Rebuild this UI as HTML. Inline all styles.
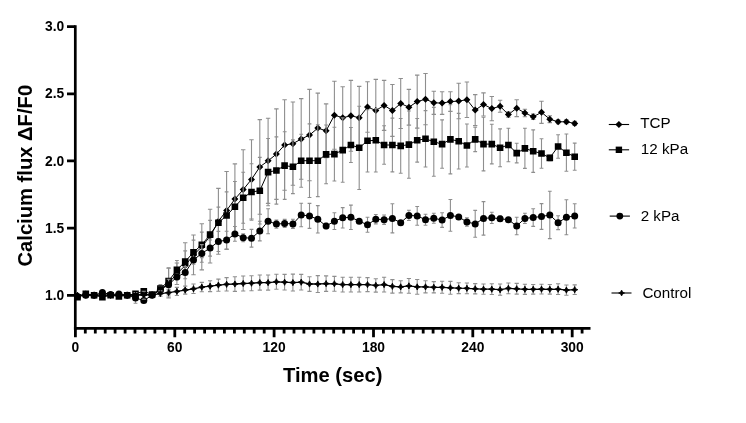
<!DOCTYPE html>
<html><head><meta charset="utf-8"><title>Calcium flux</title>
<style>
html,body{margin:0;padding:0;background:#fff;}
body{width:746px;height:423px;overflow:hidden;}
svg{display:block;}
text{font-family:"Liberation Sans",Arial,Helvetica,sans-serif;fill:#000;}
.tk{font-size:13.8px;font-weight:bold;}
.ax{font-size:20.2px;font-weight:bold;}
.lg{font-size:15.2px;}
</style></head><body>
<svg width="746" height="423" viewBox="0 0 746 423">
<rect width="746" height="423" fill="#fff"/>
<path d="M160.4 285.8V293.9M158.2 285.8h4.4M158.2 293.9h4.4M168.6 268.3V297.9M166.4 268.3h4.4M166.4 297.9h4.4M176.9 263.0V284.5M174.7 263.0h4.4M174.7 284.5h4.4M185.2 242.8V288.5M183.0 242.8h4.4M183.0 288.5h4.4M193.5 235.0V274.8M191.3 235.0h4.4M191.3 274.8h4.4M201.8 223.7V269.9M199.6 223.7h4.4M199.6 269.9h4.4M210.1 209.2V263.0M207.9 209.2h4.4M207.9 263.0h4.4M218.4 188.4V254.2M216.2 188.4h4.4M216.2 254.2h4.4M226.6 171.5V249.4M224.4 171.5h4.4M224.4 249.4h4.4M234.9 163.9V234.3M232.7 163.9h4.4M232.7 234.3h4.4M243.2 149.7V229.5M241.0 149.7h4.4M241.0 229.5h4.4M251.5 139.8V219.0M249.3 139.8h4.4M249.3 219.0h4.4M259.8 119.6V214.2M257.6 119.6h4.4M257.6 214.2h4.4M268.1 118.3V203.4M265.9 118.3h4.4M265.9 203.4h4.4M276.4 108.9V199.4M274.2 108.9h4.4M274.2 199.4h4.4M284.6 99.7V190.3M282.4 99.7h4.4M282.4 190.3h4.4M292.9 102.0V185.3M290.7 102.0h4.4M290.7 185.3h4.4M301.2 98.6V179.3M299.0 98.6h4.4M299.0 179.3h4.4M309.5 89.4V180.7M307.3 89.4h4.4M307.3 180.7h4.4M317.8 93.1V163.0M315.6 93.1h4.4M315.6 163.0h4.4M326.1 103.9V157.6M323.9 103.9h4.4M323.9 157.6h4.4M334.4 81.2V149.2M332.2 81.2h4.4M332.2 149.2h4.4M342.7 86.8V148.6M340.5 86.8h4.4M340.5 148.6h4.4M350.9 80.4V151.3M348.7 80.4h4.4M348.7 151.3h4.4M359.2 86.4V149.0M357.0 86.4h4.4M357.0 149.0h4.4M367.5 81.7V132.2M365.3 81.7h4.4M365.3 132.2h4.4M375.8 79.4V141.5M373.6 79.4h4.4M373.6 141.5h4.4M384.1 80.4V130.4M381.9 80.4h4.4M381.9 130.4h4.4M392.4 84.5V136.4M390.2 84.5h4.4M390.2 136.4h4.4M400.7 78.5V128.5M398.5 78.5h4.4M398.5 128.5h4.4M408.9 89.4V125.1M406.7 89.4h4.4M406.7 125.1h4.4M417.2 75.1V128.1M415.0 75.1h4.4M415.0 128.1h4.4M425.5 73.5V124.8M423.3 73.5h4.4M423.3 124.8h4.4M433.8 91.3V114.4M431.6 91.3h4.4M431.6 114.4h4.4M442.1 91.8V114.4M439.9 91.8h4.4M439.9 114.4h4.4M450.4 91.8V111.4M448.2 91.8h4.4M448.2 111.4h4.4M458.7 83.3V118.8M456.5 83.3h4.4M456.5 118.8h4.4M466.9 82.0V117.5M464.7 82.0h4.4M464.7 117.5h4.4M475.2 94.6V125.5M473.0 94.6h4.4M473.0 125.5h4.4M483.5 92.9V116.0M481.3 92.9h4.4M481.3 116.0h4.4M491.8 96.5V120.7M489.6 96.5h4.4M489.6 120.7h4.4M500.1 100.3V112.3M497.9 100.3h4.4M497.9 112.3h4.4M508.4 111.8V117.2M506.2 111.8h4.4M506.2 117.2h4.4M516.7 99.7V116.6M514.5 99.7h4.4M514.5 116.6h4.4M524.9 109.3V116.8M522.7 109.3h4.4M522.7 116.8h4.4M533.2 114.1V119.5M531.0 114.1h4.4M531.0 119.5h4.4M541.5 101.3V123.4M539.3 101.3h4.4M539.3 123.4h4.4M549.8 115.8V122.6M547.6 115.8h4.4M547.6 122.6h4.4M558.1 119.7V123.8M555.9 119.7h4.4M555.9 123.8h4.4M566.4 119.7V123.8M564.2 119.7h4.4M564.2 123.8h4.4M574.7 121.4V125.4M572.5 121.4h4.4M572.5 125.4h4.4" stroke="#8e8e8e" stroke-width="1.1" fill="none"/>
<polyline points="77.5,296.5 85.8,293.9 94.1,295.2 102.4,295.2 110.6,295.2 118.9,295.2 127.2,295.2 135.5,295.2 143.8,293.9 152.1,295.2 160.4,289.8 168.6,283.1 176.9,273.7 185.2,265.6 193.5,254.9 201.8,246.8 210.1,236.1 218.4,221.3 226.6,210.4 234.9,199.1 243.2,189.6 251.5,179.4 259.8,166.9 268.1,160.8 276.4,154.1 284.6,145.0 292.9,143.7 301.2,139.0 309.5,135.1 317.8,128.1 326.1,130.8 334.4,115.2 342.7,117.7 350.9,115.8 359.2,117.7 367.5,107.0 375.8,110.5 384.1,105.4 392.4,110.5 400.7,103.5 408.9,107.2 417.2,101.6 425.5,99.2 433.8,102.8 442.1,103.1 450.4,101.6 458.7,101.1 466.9,99.7 475.2,110.1 483.5,104.4 491.8,108.6 500.1,106.3 508.4,114.5 516.7,108.2 524.9,113.0 533.2,116.8 541.5,112.3 549.8,119.2 558.1,121.8 566.4,121.8 574.7,123.4" fill="none" stroke="#000" stroke-width="1.0"/>
<path d="M77.5 293.0l3.5 3.5l-3.5 3.5l-3.5 -3.5zM85.8 290.4l3.5 3.5l-3.5 3.5l-3.5 -3.5zM94.1 291.7l3.5 3.5l-3.5 3.5l-3.5 -3.5zM102.4 291.7l3.5 3.5l-3.5 3.5l-3.5 -3.5zM110.6 291.7l3.5 3.5l-3.5 3.5l-3.5 -3.5zM118.9 291.7l3.5 3.5l-3.5 3.5l-3.5 -3.5zM127.2 291.7l3.5 3.5l-3.5 3.5l-3.5 -3.5zM135.5 291.7l3.5 3.5l-3.5 3.5l-3.5 -3.5zM143.8 290.4l3.5 3.5l-3.5 3.5l-3.5 -3.5zM152.1 291.7l3.5 3.5l-3.5 3.5l-3.5 -3.5zM160.4 286.3l3.5 3.5l-3.5 3.5l-3.5 -3.5zM168.6 279.6l3.5 3.5l-3.5 3.5l-3.5 -3.5zM176.9 270.2l3.5 3.5l-3.5 3.5l-3.5 -3.5zM185.2 262.1l3.5 3.5l-3.5 3.5l-3.5 -3.5zM193.5 251.4l3.5 3.5l-3.5 3.5l-3.5 -3.5zM201.8 243.3l3.5 3.5l-3.5 3.5l-3.5 -3.5zM210.1 232.6l3.5 3.5l-3.5 3.5l-3.5 -3.5zM218.4 217.8l3.5 3.5l-3.5 3.5l-3.5 -3.5zM226.6 206.9l3.5 3.5l-3.5 3.5l-3.5 -3.5zM234.9 195.6l3.5 3.5l-3.5 3.5l-3.5 -3.5zM243.2 186.1l3.5 3.5l-3.5 3.5l-3.5 -3.5zM251.5 175.9l3.5 3.5l-3.5 3.5l-3.5 -3.5zM259.8 163.4l3.5 3.5l-3.5 3.5l-3.5 -3.5zM268.1 157.3l3.5 3.5l-3.5 3.5l-3.5 -3.5zM276.4 150.6l3.5 3.5l-3.5 3.5l-3.5 -3.5zM284.6 141.5l3.5 3.5l-3.5 3.5l-3.5 -3.5zM292.9 140.2l3.5 3.5l-3.5 3.5l-3.5 -3.5zM301.2 135.5l3.5 3.5l-3.5 3.5l-3.5 -3.5zM309.5 131.6l3.5 3.5l-3.5 3.5l-3.5 -3.5zM317.8 124.6l3.5 3.5l-3.5 3.5l-3.5 -3.5zM326.1 127.3l3.5 3.5l-3.5 3.5l-3.5 -3.5zM334.4 111.7l3.5 3.5l-3.5 3.5l-3.5 -3.5zM342.7 114.2l3.5 3.5l-3.5 3.5l-3.5 -3.5zM350.9 112.3l3.5 3.5l-3.5 3.5l-3.5 -3.5zM359.2 114.2l3.5 3.5l-3.5 3.5l-3.5 -3.5zM367.5 103.5l3.5 3.5l-3.5 3.5l-3.5 -3.5zM375.8 107.0l3.5 3.5l-3.5 3.5l-3.5 -3.5zM384.1 101.9l3.5 3.5l-3.5 3.5l-3.5 -3.5zM392.4 107.0l3.5 3.5l-3.5 3.5l-3.5 -3.5zM400.7 100.0l3.5 3.5l-3.5 3.5l-3.5 -3.5zM408.9 103.7l3.5 3.5l-3.5 3.5l-3.5 -3.5zM417.2 98.1l3.5 3.5l-3.5 3.5l-3.5 -3.5zM425.5 95.7l3.5 3.5l-3.5 3.5l-3.5 -3.5zM433.8 99.3l3.5 3.5l-3.5 3.5l-3.5 -3.5zM442.1 99.6l3.5 3.5l-3.5 3.5l-3.5 -3.5zM450.4 98.1l3.5 3.5l-3.5 3.5l-3.5 -3.5zM458.7 97.6l3.5 3.5l-3.5 3.5l-3.5 -3.5zM466.9 96.2l3.5 3.5l-3.5 3.5l-3.5 -3.5zM475.2 106.6l3.5 3.5l-3.5 3.5l-3.5 -3.5zM483.5 100.9l3.5 3.5l-3.5 3.5l-3.5 -3.5zM491.8 105.1l3.5 3.5l-3.5 3.5l-3.5 -3.5zM500.1 102.8l3.5 3.5l-3.5 3.5l-3.5 -3.5zM508.4 111.0l3.5 3.5l-3.5 3.5l-3.5 -3.5zM516.7 104.7l3.5 3.5l-3.5 3.5l-3.5 -3.5zM524.9 109.5l3.5 3.5l-3.5 3.5l-3.5 -3.5zM533.2 113.3l3.5 3.5l-3.5 3.5l-3.5 -3.5zM541.5 108.8l3.5 3.5l-3.5 3.5l-3.5 -3.5zM549.8 115.7l3.5 3.5l-3.5 3.5l-3.5 -3.5zM558.1 118.3l3.5 3.5l-3.5 3.5l-3.5 -3.5zM566.4 118.3l3.5 3.5l-3.5 3.5l-3.5 -3.5zM574.7 119.9l3.5 3.5l-3.5 3.5l-3.5 -3.5z" fill="#000"/>
<path d="M160.4 284.5V292.5M158.5 284.5h3.8M158.5 292.5h3.8M168.6 267.7V294.5M166.7 267.7h3.8M166.7 294.5h3.8M176.9 260.5V279.3M175.0 260.5h3.8M175.0 279.3h3.8M185.2 250.9V272.4M183.3 250.9h3.8M183.3 272.4h3.8M193.5 240.1V264.3M191.6 240.1h3.8M191.6 264.3h3.8M201.8 232.1V257.6M199.9 232.1h3.8M199.9 257.6h3.8M210.1 220.4V248.8M208.2 220.4h3.8M208.2 248.8h3.8M218.4 207.1V238.5M216.5 207.1h3.8M216.5 238.5h3.8M226.6 191.9V239.2M224.7 191.9h3.8M224.7 239.2h3.8M234.9 181.5V231.8M233.0 181.5h3.8M233.0 231.8h3.8M243.2 172.3V223.3M241.3 172.3h3.8M241.3 223.3h3.8M251.5 163.8V220.2M249.6 163.8h3.8M249.6 220.2h3.8M259.8 157.4V224.0M257.9 157.4h3.8M257.9 224.0h3.8M268.1 138.5V205.7M266.2 138.5h3.8M266.2 205.7h3.8M276.4 136.9V204.1M274.5 136.9h3.8M274.5 204.1h3.8M284.6 131.7V199.4M282.8 131.7h3.8M282.8 199.4h3.8M292.9 139.9V193.6M291.0 139.9h3.8M291.0 193.6h3.8M301.2 134.2V187.2M299.3 134.2h3.8M299.3 187.2h3.8M309.5 123.9V197.5M307.6 123.9h3.8M307.6 197.5h3.8M317.8 124.8V196.6M315.9 124.8h3.8M315.9 196.6h3.8M326.1 125.0V183.8M324.2 125.0h3.8M324.2 183.8h3.8M334.4 127.3V181.0M332.5 127.3h3.8M332.5 181.0h3.8M342.7 117.9V182.3M340.8 117.9h3.8M340.8 182.3h3.8M350.9 127.5V162.5M349.0 127.5h3.8M349.0 162.5h3.8M359.2 106.2V189.5M357.3 106.2h3.8M357.3 189.5h3.8M367.5 109.7V172.0M365.6 109.7h3.8M365.6 172.0h3.8M375.8 108.6V172.0M373.9 108.6h3.8M373.9 172.0h3.8M384.1 125.7V164.3M382.2 125.7h3.8M382.2 164.3h3.8M392.4 118.1V171.9M390.5 118.1h3.8M390.5 171.9h3.8M400.7 118.5V173.3M398.8 118.5h3.8M398.8 173.3h3.8M408.9 111.0V178.2M407.0 111.0h3.8M407.0 178.2h3.8M417.2 118.5V162.1M415.3 118.5h3.8M415.3 162.1h3.8M425.5 110.6V167.0M423.6 110.6h3.8M423.6 167.0h3.8M433.8 107.4V176.2M431.9 107.4h3.8M431.9 176.2h3.8M442.1 119.9V168.2M440.2 119.9h3.8M440.2 168.2h3.8M450.4 104.8V173.9M448.5 104.8h3.8M448.5 173.9h3.8M458.7 113.4V169.0M456.8 113.4h3.8M456.8 169.0h3.8M466.9 124.0V167.0M465.0 124.0h3.8M465.0 167.0h3.8M475.2 127.1V151.6M473.3 127.1h3.8M473.3 151.6h3.8M483.5 117.2V170.9M481.6 117.2h3.8M481.6 170.9h3.8M491.8 124.2V163.9M489.9 124.2h3.8M489.9 163.9h3.8M500.1 128.9V166.8M498.2 128.9h3.8M498.2 166.8h3.8M508.4 128.3V161.7M506.5 128.3h3.8M506.5 161.7h3.8M516.7 143.3V162.9M514.8 143.3h3.8M514.8 162.9h3.8M524.9 128.3V168.4M523.0 128.3h3.8M523.0 168.4h3.8M533.2 129.9V172.4M531.3 129.9h3.8M531.3 172.4h3.8M541.5 138.7V168.2M539.6 138.7h3.8M539.6 168.2h3.8M549.8 155.2V160.6M547.9 155.2h3.8M547.9 160.6h3.8M558.1 134.8V158.2M556.2 134.8h3.8M556.2 158.2h3.8M566.4 134.0V171.3M564.5 134.0h3.8M564.5 171.3h3.8M574.7 143.1V170.3M572.8 143.1h3.8M572.8 170.3h3.8" stroke="#8e8e8e" stroke-width="1.1" fill="none"/>
<polyline points="77.5,297.2 85.8,293.9 94.1,295.2 102.4,297.2 110.6,295.2 118.9,296.5 127.2,295.2 135.5,293.9 143.8,291.2 152.1,294.5 160.4,288.5 168.6,281.1 176.9,269.9 185.2,261.6 193.5,252.2 201.8,244.8 210.1,234.6 218.4,222.8 226.6,215.5 234.9,206.7 243.2,197.8 251.5,192.0 259.8,190.7 268.1,172.1 276.4,170.5 284.6,165.6 292.9,166.8 301.2,160.7 309.5,160.7 317.8,160.7 326.1,154.4 334.4,154.1 342.7,150.1 350.9,145.0 359.2,147.8 367.5,140.8 375.8,140.3 384.1,145.0 392.4,145.0 400.7,145.9 408.9,144.6 417.2,140.3 425.5,138.8 433.8,141.8 442.1,144.1 450.4,139.4 458.7,141.2 466.9,145.5 475.2,139.4 483.5,144.1 491.8,144.1 500.1,147.8 508.4,145.0 516.7,153.1 524.9,148.4 533.2,151.2 541.5,153.5 549.8,157.9 558.1,146.5 566.4,152.7 574.7,156.7" fill="none" stroke="#000" stroke-width="1.0"/>
<path d="M74.2 293.9h6.6v6.6h-6.6zM82.5 290.6h6.6v6.6h-6.6zM90.8 291.9h6.6v6.6h-6.6zM99.1 293.9h6.6v6.6h-6.6zM107.3 291.9h6.6v6.6h-6.6zM115.6 293.2h6.6v6.6h-6.6zM123.9 291.9h6.6v6.6h-6.6zM132.2 290.6h6.6v6.6h-6.6zM140.5 287.9h6.6v6.6h-6.6zM148.8 291.2h6.6v6.6h-6.6zM157.1 285.2h6.6v6.6h-6.6zM165.3 277.8h6.6v6.6h-6.6zM173.6 266.6h6.6v6.6h-6.6zM181.9 258.3h6.6v6.6h-6.6zM190.2 248.9h6.6v6.6h-6.6zM198.5 241.5h6.6v6.6h-6.6zM206.8 231.3h6.6v6.6h-6.6zM215.1 219.5h6.6v6.6h-6.6zM223.3 212.2h6.6v6.6h-6.6zM231.6 203.4h6.6v6.6h-6.6zM239.9 194.5h6.6v6.6h-6.6zM248.2 188.7h6.6v6.6h-6.6zM256.5 187.4h6.6v6.6h-6.6zM264.8 168.8h6.6v6.6h-6.6zM273.1 167.2h6.6v6.6h-6.6zM281.3 162.3h6.6v6.6h-6.6zM289.6 163.5h6.6v6.6h-6.6zM297.9 157.4h6.6v6.6h-6.6zM306.2 157.4h6.6v6.6h-6.6zM314.5 157.4h6.6v6.6h-6.6zM322.8 151.1h6.6v6.6h-6.6zM331.1 150.8h6.6v6.6h-6.6zM339.4 146.8h6.6v6.6h-6.6zM347.6 141.7h6.6v6.6h-6.6zM355.9 144.5h6.6v6.6h-6.6zM364.2 137.5h6.6v6.6h-6.6zM372.5 137.0h6.6v6.6h-6.6zM380.8 141.7h6.6v6.6h-6.6zM389.1 141.7h6.6v6.6h-6.6zM397.4 142.6h6.6v6.6h-6.6zM405.6 141.3h6.6v6.6h-6.6zM413.9 137.0h6.6v6.6h-6.6zM422.2 135.5h6.6v6.6h-6.6zM430.5 138.5h6.6v6.6h-6.6zM438.8 140.8h6.6v6.6h-6.6zM447.1 136.1h6.6v6.6h-6.6zM455.4 137.9h6.6v6.6h-6.6zM463.6 142.2h6.6v6.6h-6.6zM471.9 136.1h6.6v6.6h-6.6zM480.2 140.8h6.6v6.6h-6.6zM488.5 140.8h6.6v6.6h-6.6zM496.8 144.5h6.6v6.6h-6.6zM505.1 141.7h6.6v6.6h-6.6zM513.4 149.8h6.6v6.6h-6.6zM521.6 145.1h6.6v6.6h-6.6zM529.9 147.9h6.6v6.6h-6.6zM538.2 150.2h6.6v6.6h-6.6zM546.5 154.6h6.6v6.6h-6.6zM554.8 143.2h6.6v6.6h-6.6zM563.1 149.4h6.6v6.6h-6.6zM571.4 153.4h6.6v6.6h-6.6z" fill="#000"/>
<path d="M135.5 292.5V303.3M133.6 292.5h3.8M133.6 303.3h3.8M160.4 287.1V292.5M158.5 287.1h3.8M158.5 292.5h3.8M168.6 279.3V290.1M166.7 279.3h3.8M166.7 290.1h3.8M176.9 274.2V279.6M175.0 274.2h3.8M175.0 279.6h3.8M185.2 266.6V278.7M183.3 266.6h3.8M183.3 278.7h3.8M193.5 257.2V262.6M191.6 257.2h3.8M191.6 262.6h3.8M201.8 244.6V262.3M199.9 244.6h3.8M199.9 262.3h3.8M210.1 240.0V256.1M208.2 240.0h3.8M208.2 256.1h3.8M218.4 231.4V251.5M216.5 231.4h3.8M216.5 251.5h3.8M226.6 231.2V249.0M224.7 231.2h3.8M224.7 249.0h3.8M234.9 226.5V241.3M233.0 226.5h3.8M233.0 241.3h3.8M243.2 233.7V241.7M241.3 233.7h3.8M241.3 241.7h3.8M251.5 229.4V247.1M249.6 229.4h3.8M249.6 247.1h3.8M259.8 221.3V240.9M257.9 221.3h3.8M257.9 240.9h3.8M268.1 208.7V233.7M266.2 208.7h3.8M266.2 233.7h3.8M276.4 220.1V228.2M274.5 220.1h3.8M274.5 228.2h3.8M284.6 219.4V227.5M282.8 219.4h3.8M282.8 227.5h3.8M292.9 219.3V228.4M291.0 219.3h3.8M291.0 228.4h3.8M301.2 203.3V226.7M299.3 203.3h3.8M299.3 226.7h3.8M309.5 203.4V228.4M307.6 203.4h3.8M307.6 228.4h3.8M317.8 205.6V233.0M315.9 205.6h3.8M315.9 233.0h3.8M326.1 223.3V228.7M324.2 223.3h3.8M324.2 228.7h3.8M334.4 212.8V229.5M332.5 212.8h3.8M332.5 229.5h3.8M342.7 207.6V228.0M340.8 207.6h3.8M340.8 228.0h3.8M350.9 205.1V229.5M349.0 205.1h3.8M349.0 229.5h3.8M359.2 219.2V223.2M357.3 219.2h3.8M357.3 223.2h3.8M367.5 217.3V232.3M365.6 217.3h3.8M365.6 232.3h3.8M375.8 214.5V223.9M373.9 214.5h3.8M373.9 223.9h3.8M384.1 215.0V224.4M382.2 215.0h3.8M382.2 224.4h3.8M392.4 203.8V232.9M390.5 203.8h3.8M390.5 232.9h3.8M400.7 221.3V224.0M398.8 221.3h3.8M398.8 224.0h3.8M408.9 210.3V220.5M407.0 210.3h3.8M407.0 220.5h3.8M417.2 206.5V225.3M415.3 206.5h3.8M415.3 225.3h3.8M425.5 214.2V225.2M423.6 214.2h3.8M423.6 225.2h3.8M433.8 213.2V223.2M431.9 213.2h3.8M431.9 223.2h3.8M442.1 212.8V227.4M440.2 212.8h3.8M440.2 227.4h3.8M450.4 199.5V231.2M448.5 199.5h3.8M448.5 231.2h3.8M458.7 215.5V218.2M456.8 215.5h3.8M456.8 218.2h3.8M466.9 217.7V226.3M465.0 217.7h3.8M465.0 226.3h3.8M475.2 210.4V237.3M473.3 210.4h3.8M473.3 237.3h3.8M483.5 201.6V235.1M481.6 201.6h3.8M481.6 235.1h3.8M491.8 212.2V223.5M489.9 212.2h3.8M489.9 223.5h3.8M500.1 216.1V221.4M498.2 216.1h3.8M498.2 221.4h3.8M508.4 218.4V221.0M506.5 218.4h3.8M506.5 221.0h3.8M516.7 217.3V234.7M514.8 217.3h3.8M514.8 234.7h3.8M524.9 213.2V223.5M523.0 213.2h3.8M523.0 223.5h3.8M533.2 208.7V226.4M531.3 208.7h3.8M531.3 226.4h3.8M541.5 203.6V229.4M539.6 203.6h3.8M539.6 229.4h3.8M549.8 191.3V238.6M547.9 191.3h3.8M547.9 238.6h3.8M558.1 215.7V229.6M556.2 215.7h3.8M556.2 229.6h3.8M566.4 199.8V234.7M564.5 199.8h3.8M564.5 234.7h3.8M574.7 203.8V228.0M572.8 203.8h3.8M572.8 228.0h3.8" stroke="#8e8e8e" stroke-width="1.1" fill="none"/>
<polyline points="77.5,296.5 85.8,295.2 94.1,295.2 102.4,292.5 110.6,294.5 118.9,293.9 127.2,295.2 135.5,297.9 143.8,300.6 152.1,295.2 160.4,289.8 168.6,284.7 176.9,276.9 185.2,272.6 193.5,259.9 201.8,253.4 210.1,248.0 218.4,241.5 226.6,240.1 234.9,233.9 243.2,237.7 251.5,238.2 259.8,231.1 268.1,221.2 276.4,224.1 284.6,223.5 292.9,223.9 301.2,215.0 309.5,215.9 317.8,219.3 326.1,226.0 334.4,221.2 342.7,217.8 350.9,217.3 359.2,221.2 367.5,224.8 375.8,219.2 384.1,219.7 392.4,218.4 400.7,222.7 408.9,215.4 417.2,215.9 425.5,219.7 433.8,218.2 442.1,220.1 450.4,215.4 458.7,216.9 466.9,222.0 475.2,223.9 483.5,218.4 491.8,217.8 500.1,218.8 508.4,219.7 516.7,226.0 524.9,218.4 533.2,217.5 541.5,216.5 549.8,215.0 558.1,222.7 566.4,217.3 574.7,215.9" fill="none" stroke="#000" stroke-width="1.0"/>
<g fill="#000"><circle cx="77.5" cy="296.5" r="3.5"/><circle cx="85.8" cy="295.2" r="3.5"/><circle cx="94.1" cy="295.2" r="3.5"/><circle cx="102.4" cy="292.5" r="3.5"/><circle cx="110.6" cy="294.5" r="3.5"/><circle cx="118.9" cy="293.9" r="3.5"/><circle cx="127.2" cy="295.2" r="3.5"/><circle cx="135.5" cy="297.9" r="3.5"/><circle cx="143.8" cy="300.6" r="3.5"/><circle cx="152.1" cy="295.2" r="3.5"/><circle cx="160.4" cy="289.8" r="3.5"/><circle cx="168.6" cy="284.7" r="3.5"/><circle cx="176.9" cy="276.9" r="3.5"/><circle cx="185.2" cy="272.6" r="3.5"/><circle cx="193.5" cy="259.9" r="3.5"/><circle cx="201.8" cy="253.4" r="3.5"/><circle cx="210.1" cy="248.0" r="3.5"/><circle cx="218.4" cy="241.5" r="3.5"/><circle cx="226.6" cy="240.1" r="3.5"/><circle cx="234.9" cy="233.9" r="3.5"/><circle cx="243.2" cy="237.7" r="3.5"/><circle cx="251.5" cy="238.2" r="3.5"/><circle cx="259.8" cy="231.1" r="3.5"/><circle cx="268.1" cy="221.2" r="3.5"/><circle cx="276.4" cy="224.1" r="3.5"/><circle cx="284.6" cy="223.5" r="3.5"/><circle cx="292.9" cy="223.9" r="3.5"/><circle cx="301.2" cy="215.0" r="3.5"/><circle cx="309.5" cy="215.9" r="3.5"/><circle cx="317.8" cy="219.3" r="3.5"/><circle cx="326.1" cy="226.0" r="3.5"/><circle cx="334.4" cy="221.2" r="3.5"/><circle cx="342.7" cy="217.8" r="3.5"/><circle cx="350.9" cy="217.3" r="3.5"/><circle cx="359.2" cy="221.2" r="3.5"/><circle cx="367.5" cy="224.8" r="3.5"/><circle cx="375.8" cy="219.2" r="3.5"/><circle cx="384.1" cy="219.7" r="3.5"/><circle cx="392.4" cy="218.4" r="3.5"/><circle cx="400.7" cy="222.7" r="3.5"/><circle cx="408.9" cy="215.4" r="3.5"/><circle cx="417.2" cy="215.9" r="3.5"/><circle cx="425.5" cy="219.7" r="3.5"/><circle cx="433.8" cy="218.2" r="3.5"/><circle cx="442.1" cy="220.1" r="3.5"/><circle cx="450.4" cy="215.4" r="3.5"/><circle cx="458.7" cy="216.9" r="3.5"/><circle cx="466.9" cy="222.0" r="3.5"/><circle cx="475.2" cy="223.9" r="3.5"/><circle cx="483.5" cy="218.4" r="3.5"/><circle cx="491.8" cy="217.8" r="3.5"/><circle cx="500.1" cy="218.8" r="3.5"/><circle cx="508.4" cy="219.7" r="3.5"/><circle cx="516.7" cy="226.0" r="3.5"/><circle cx="524.9" cy="218.4" r="3.5"/><circle cx="533.2" cy="217.5" r="3.5"/><circle cx="541.5" cy="216.5" r="3.5"/><circle cx="549.8" cy="215.0" r="3.5"/><circle cx="558.1" cy="222.7" r="3.5"/><circle cx="566.4" cy="217.3" r="3.5"/><circle cx="574.7" cy="215.9" r="3.5"/></g>
<path d="M143.8 291.2V299.2M141.7 291.2h4.2M141.7 299.2h4.2M160.4 290.9V296.3M158.3 290.9h4.2M158.3 296.3h4.2M168.6 289.3V296.0M166.5 289.3h4.2M166.5 296.0h4.2M176.9 287.4V295.5M174.8 287.4h4.2M174.8 295.5h4.2M185.2 286.1V294.1M183.1 286.1h4.2M183.1 294.1h4.2M193.5 284.0V293.5M191.4 284.0h4.2M191.4 293.5h4.2M201.8 282.4V291.8M199.7 282.4h4.2M199.7 291.8h4.2M210.1 280.8V291.6M208.0 280.8h4.2M208.0 291.6h4.2M218.4 279.1V291.2M216.3 279.1h4.2M216.3 291.2h4.2M226.6 277.6V291.0M224.5 277.6h4.2M224.5 291.0h4.2M234.9 276.7V291.4M232.8 276.7h4.2M232.8 291.4h4.2M243.2 276.0V291.0M241.1 276.0h4.2M241.1 291.0h4.2M251.5 275.7V290.8M249.4 275.7h4.2M249.4 290.8h4.2M259.8 275.0V290.1M257.7 275.0h4.2M257.7 290.1h4.2M268.1 275.0V290.1M266.0 275.0h4.2M266.0 290.1h4.2M276.4 274.2V289.3M274.3 274.2h4.2M274.3 289.3h4.2M284.6 274.4V290.0M282.5 274.4h4.2M282.5 290.0h4.2M292.9 274.1V291.0M290.8 274.1h4.2M290.8 291.0h4.2M301.2 274.4V290.0M299.1 274.4h4.2M299.1 290.0h4.2M309.5 276.7V291.4M307.4 276.7h4.2M307.4 291.4h4.2M317.8 275.6V292.5M315.7 275.6h4.2M315.7 292.5h4.2M326.1 275.9V291.4M324.0 275.9h4.2M324.0 291.4h4.2M334.4 276.4V291.2M332.3 276.4h4.2M332.3 291.2h4.2M342.7 277.2V292.0M340.6 277.2h4.2M340.6 292.0h4.2M350.9 277.2V292.0M348.8 277.2h4.2M348.8 292.0h4.2M359.2 277.2V292.0M357.1 277.2h4.2M357.1 292.0h4.2M367.5 277.6V291.6M365.4 277.6h4.2M365.4 291.6h4.2M375.8 278.7V292.1M373.7 278.7h4.2M373.7 292.1h4.2M384.1 277.2V292.0M382.0 277.2h4.2M382.0 292.0h4.2M392.4 279.6V293.1M390.3 279.6h4.2M390.3 293.1h4.2M400.7 280.8V292.9M398.6 280.8h4.2M398.6 292.9h4.2M408.9 278.5V293.3M406.8 278.5h4.2M406.8 293.3h4.2M417.2 279.5V294.3M415.1 279.5h4.2M415.1 294.3h4.2M425.5 280.8V292.9M423.4 280.8h4.2M423.4 292.9h4.2M433.8 281.6V292.9M431.7 281.6h4.2M431.7 292.9h4.2M442.1 281.2V293.3M440.0 281.2h4.2M440.0 293.3h4.2M450.4 281.4V294.3M448.3 281.4h4.2M448.3 294.3h4.2M458.7 282.8V293.6M456.6 282.8h4.2M456.6 293.6h4.2M466.9 283.0V293.7M464.8 283.0h4.2M464.8 293.7h4.2M475.2 283.6V293.9M473.1 283.6h4.2M473.1 293.9h4.2M483.5 284.0V294.3M481.4 284.0h4.2M481.4 294.3h4.2M491.8 283.8V294.5M489.7 283.8h4.2M489.7 294.5h4.2M500.1 284.0V295.3M498.0 284.0h4.2M498.0 295.3h4.2M508.4 283.0V293.7M506.3 283.0h4.2M506.3 293.7h4.2M516.7 283.4V294.1M514.6 283.4h4.2M514.6 294.1h4.2M524.9 284.2V294.4M522.8 284.2h4.2M522.8 294.4h4.2M533.2 284.5V294.1M531.1 284.5h4.2M531.1 294.1h4.2M541.5 284.3V294.0M539.4 284.3h4.2M539.4 294.0h4.2M549.8 284.5V294.1M547.7 284.5h4.2M547.7 294.1h4.2M558.1 283.8V294.5M556.0 283.8h4.2M556.0 294.5h4.2M566.4 285.0V295.2M564.3 285.0h4.2M564.3 295.2h4.2M574.7 284.9V294.5M572.6 284.9h4.2M572.6 294.5h4.2" stroke="#8e8e8e" stroke-width="1.1" fill="none"/>
<polyline points="77.5,295.2 85.8,295.2 94.1,295.2 102.4,295.2 110.6,295.2 118.9,295.2 127.2,295.2 135.5,295.2 143.8,295.2 152.1,294.8 160.4,293.6 168.6,292.6 176.9,291.4 185.2,290.1 193.5,288.8 201.8,287.1 210.1,286.2 218.4,285.1 226.6,284.3 234.9,284.0 243.2,283.5 251.5,283.2 259.8,282.6 268.1,282.6 276.4,281.8 284.6,282.2 292.9,282.6 301.2,282.2 309.5,284.0 317.8,284.0 326.1,283.6 334.4,283.8 342.7,284.6 350.9,284.6 359.2,284.6 367.5,284.6 375.8,285.4 384.1,284.6 392.4,286.3 400.7,286.9 408.9,285.9 417.2,286.9 425.5,286.9 433.8,287.3 442.1,287.3 450.4,287.8 458.7,288.2 466.9,288.3 475.2,288.8 483.5,289.2 491.8,289.2 500.1,289.7 508.4,288.3 516.7,288.8 524.9,289.3 533.2,289.3 541.5,289.2 549.8,289.3 558.1,289.2 566.4,290.1 574.7,289.7" fill="none" stroke="#000" stroke-width="1.3"/>
<path d="M77.5 292.1L78.50 294.20L80.6 295.2L78.50 296.20L77.5 298.3L76.50 296.20L74.4 295.2L76.50 294.20zM85.8 292.1L86.79 294.20L88.9 295.2L86.79 296.20L85.8 298.3L84.79 296.20L82.7 295.2L84.79 294.20zM94.1 292.1L95.07 294.20L97.2 295.2L95.07 296.20L94.1 298.3L93.07 296.20L91.0 295.2L93.07 294.20zM102.4 292.1L103.36 294.20L105.5 295.2L103.36 296.20L102.4 298.3L101.36 296.20L99.3 295.2L101.36 294.20zM110.6 292.1L111.64 294.20L113.7 295.2L111.64 296.20L110.6 298.3L109.64 296.20L107.5 295.2L109.64 294.20zM118.9 292.1L119.93 294.20L122.0 295.2L119.93 296.20L118.9 298.3L117.93 296.20L115.8 295.2L117.93 294.20zM127.2 292.1L128.22 294.20L130.3 295.2L128.22 296.20L127.2 298.3L126.22 296.20L124.1 295.2L126.22 294.20zM135.5 292.1L136.50 294.20L138.6 295.2L136.50 296.20L135.5 298.3L134.50 296.20L132.4 295.2L134.50 294.20zM143.8 292.1L144.79 294.20L146.9 295.2L144.79 296.20L143.8 298.3L142.79 296.20L140.7 295.2L142.79 294.20zM152.1 291.7L153.07 293.80L155.2 294.8L153.07 295.80L152.1 297.9L151.07 295.80L149.0 294.8L151.07 293.80zM160.4 290.5L161.36 292.59L163.5 293.6L161.36 294.59L160.4 296.7L159.36 294.59L157.3 293.6L159.36 292.59zM168.6 289.5L169.65 291.65L171.7 292.6L169.65 293.65L168.6 295.7L167.65 293.65L165.5 292.6L167.65 291.65zM176.9 288.3L177.93 290.44L180.0 291.4L177.93 292.44L176.9 294.5L175.93 292.44L173.8 291.4L175.93 290.44zM185.2 287.0L186.22 289.09L188.3 290.1L186.22 291.09L185.2 293.2L184.22 291.09L182.1 290.1L184.22 289.09zM193.5 285.7L194.50 287.75L196.6 288.8L194.50 289.75L193.5 291.9L192.50 289.75L190.4 288.8L192.50 287.75zM201.8 284.0L202.79 286.14L204.9 287.1L202.79 288.14L201.8 290.2L200.79 288.14L198.7 287.1L200.79 286.14zM210.1 283.1L211.08 285.20L213.2 286.2L211.08 287.20L210.1 289.3L209.08 287.20L207.0 286.2L209.08 285.20zM218.4 282.0L219.36 284.12L221.5 285.1L219.36 286.12L218.4 288.2L217.36 286.12L215.3 285.1L217.36 284.12zM226.6 281.2L227.65 283.32L229.7 284.3L227.65 285.32L226.6 287.4L225.65 285.32L223.5 284.3L225.65 283.32zM234.9 280.9L235.93 283.05L238.0 284.0L235.93 285.05L234.9 287.1L233.93 285.05L231.8 284.0L233.93 283.05zM243.2 280.4L244.22 282.51L246.3 283.5L244.22 284.51L243.2 286.6L242.22 284.51L240.1 283.5L242.22 282.51zM251.5 280.1L252.51 282.24L254.6 283.2L252.51 284.24L251.5 286.3L250.51 284.24L248.4 283.2L250.51 282.24zM259.8 279.5L260.79 281.57L262.9 282.6L260.79 283.57L259.8 285.7L258.79 283.57L256.7 282.6L258.79 281.57zM268.1 279.5L269.08 281.57L271.2 282.6L269.08 283.57L268.1 285.7L267.08 283.57L265.0 282.6L267.08 281.57zM276.4 278.7L277.36 280.76L279.5 281.8L277.36 282.76L276.4 284.9L275.36 282.76L273.3 281.8L275.36 280.76zM284.6 279.1L285.65 281.17L287.8 282.2L285.65 283.17L284.6 285.3L283.65 283.17L281.5 282.2L283.65 281.17zM292.9 279.5L293.94 281.57L296.0 282.6L293.94 283.57L292.9 285.7L291.94 283.57L289.8 282.6L291.94 281.57zM301.2 279.1L302.22 281.17L304.3 282.2L302.22 283.17L301.2 285.3L300.22 283.17L298.1 282.2L300.22 281.17zM309.5 280.9L310.51 283.05L312.6 284.0L310.51 285.05L309.5 287.1L308.51 285.05L306.4 284.0L308.51 283.05zM317.8 280.9L318.79 283.05L320.9 284.0L318.79 285.05L317.8 287.1L316.79 285.05L314.7 284.0L316.79 283.05zM326.1 280.5L327.08 282.65L329.2 283.6L327.08 284.65L326.1 286.7L325.08 284.65L323.0 283.6L325.08 282.65zM334.4 280.7L335.37 282.78L337.5 283.8L335.37 284.78L334.4 286.9L333.37 284.78L331.3 283.8L333.37 282.78zM342.7 281.5L343.65 283.59L345.8 284.6L343.65 285.59L342.7 287.7L341.65 285.59L339.6 284.6L341.65 283.59zM350.9 281.5L351.94 283.59L354.0 284.6L351.94 285.59L350.9 287.7L349.94 285.59L347.8 284.6L349.94 283.59zM359.2 281.5L360.22 283.59L362.3 284.6L360.22 285.59L359.2 287.7L358.22 285.59L356.1 284.6L358.22 283.59zM367.5 281.5L368.51 283.59L370.6 284.6L368.51 285.59L367.5 287.7L366.51 285.59L364.4 284.6L366.51 283.59zM375.8 282.3L376.80 284.39L378.9 285.4L376.80 286.39L375.8 288.5L374.80 286.39L372.7 285.4L374.80 284.39zM384.1 281.5L385.08 283.59L387.2 284.6L385.08 285.59L384.1 287.7L383.08 285.59L381.0 284.6L383.08 283.59zM392.4 283.2L393.37 285.33L395.5 286.3L393.37 287.33L392.4 289.4L391.37 287.33L389.3 286.3L391.37 285.33zM400.7 283.8L401.65 285.87L403.8 286.9L401.65 287.87L400.7 290.0L399.65 287.87L397.6 286.9L399.65 285.87zM408.9 282.8L409.94 284.93L412.0 285.9L409.94 286.93L408.9 289.0L407.94 286.93L405.8 285.9L407.94 284.93zM417.2 283.8L418.23 285.87L420.3 286.9L418.23 287.87L417.2 290.0L416.23 287.87L414.1 286.9L416.23 285.87zM425.5 283.8L426.51 285.87L428.6 286.9L426.51 287.87L425.5 290.0L424.51 287.87L422.4 286.9L424.51 285.87zM433.8 284.2L434.80 286.27L436.9 287.3L434.80 288.27L433.8 290.4L432.80 288.27L430.7 287.3L432.80 286.27zM442.1 284.2L443.08 286.27L445.2 287.3L443.08 288.27L442.1 290.4L441.08 288.27L439.0 287.3L441.08 286.27zM450.4 284.7L451.37 286.81L453.5 287.8L451.37 288.81L450.4 290.9L449.37 288.81L447.3 287.8L449.37 286.81zM458.7 285.1L459.66 287.21L461.8 288.2L459.66 289.21L458.7 291.3L457.66 289.21L455.6 288.2L457.66 287.21zM466.9 285.2L467.94 287.35L470.0 288.3L467.94 289.35L466.9 291.4L465.94 289.35L463.8 288.3L465.94 287.35zM475.2 285.7L476.23 287.75L478.3 288.8L476.23 289.75L475.2 291.9L474.23 289.75L472.1 288.8L474.23 287.75zM483.5 286.1L484.51 288.15L486.6 289.2L484.51 290.15L483.5 292.3L482.51 290.15L480.4 289.2L482.51 288.15zM491.8 286.1L492.80 288.15L494.9 289.2L492.80 290.15L491.8 292.3L490.80 290.15L488.7 289.2L490.80 288.15zM500.1 286.6L501.09 288.69L503.2 289.7L501.09 290.69L500.1 292.8L499.09 290.69L497.0 289.7L499.09 288.69zM508.4 285.2L509.37 287.35L511.5 288.3L509.37 289.35L508.4 291.4L507.37 289.35L505.3 288.3L507.37 287.35zM516.7 285.7L517.66 287.75L519.8 288.8L517.66 289.75L516.7 291.9L515.66 289.75L513.6 288.8L515.66 287.75zM524.9 286.2L525.94 288.29L528.0 289.3L525.94 290.29L524.9 292.4L523.94 290.29L521.8 289.3L523.94 288.29zM533.2 286.2L534.23 288.29L536.3 289.3L534.23 290.29L533.2 292.4L532.23 290.29L530.1 289.3L532.23 288.29zM541.5 286.1L542.52 288.15L544.6 289.2L542.52 290.15L541.5 292.3L540.52 290.15L538.4 289.2L540.52 288.15zM549.8 286.2L550.80 288.29L552.9 289.3L550.80 290.29L549.8 292.4L548.80 290.29L546.7 289.3L548.80 288.29zM558.1 286.1L559.09 288.15L561.2 289.2L559.09 290.15L558.1 292.3L557.09 290.15L555.0 289.2L557.09 288.15zM566.4 287.0L567.37 289.09L569.5 290.1L567.37 291.09L566.4 293.2L565.37 291.09L563.3 290.1L565.37 289.09zM574.7 286.6L575.66 288.69L577.8 289.7L575.66 290.69L574.7 292.8L573.66 290.69L571.6 289.7L573.66 288.69z" stroke="#000" stroke-width="0.9" fill="#000" stroke-linejoin="miter"/>
<path d="M75.3 25.3V329.84999999999997" stroke="#000" stroke-width="2.7" fill="none"/>
<path d="M73.95 328.4H590.5" stroke="#000" stroke-width="2.9" fill="none"/>
<path d="M67.0 295.3H75.3M67.0 228.1H75.3M67.0 160.9H75.3M67.0 93.8H75.3M67.0 26.6H75.3" stroke="#000" stroke-width="2.8" fill="none"/>
<path d="M75.4 328.4V337.2M85.3 328.4V333.5M95.3 328.4V333.5M105.2 328.4V333.5M115.1 328.4V333.5M125.1 328.4V333.5M135.0 328.4V333.5M145.0 328.4V333.5M154.9 328.4V333.5M164.8 328.4V333.5M174.8 328.4V337.2M184.7 328.4V333.5M194.6 328.4V333.5M204.6 328.4V333.5M214.5 328.4V333.5M224.4 328.4V333.5M234.4 328.4V333.5M244.3 328.4V333.5M254.2 328.4V333.5M264.2 328.4V333.5M274.1 328.4V337.2M284.1 328.4V333.5M294.0 328.4V333.5M303.9 328.4V333.5M313.9 328.4V333.5M323.8 328.4V333.5M333.7 328.4V333.5M343.7 328.4V333.5M353.6 328.4V333.5M363.5 328.4V333.5M373.5 328.4V337.2M383.4 328.4V333.5M393.4 328.4V333.5M403.3 328.4V333.5M413.2 328.4V333.5M423.2 328.4V333.5M433.1 328.4V333.5M443.0 328.4V333.5M453.0 328.4V333.5M462.9 328.4V333.5M472.8 328.4V337.2M482.8 328.4V333.5M492.7 328.4V333.5M502.6 328.4V333.5M512.6 328.4V333.5M522.5 328.4V333.5M532.5 328.4V333.5M542.4 328.4V333.5M552.3 328.4V333.5M562.3 328.4V333.5M572.2 328.4V337.2M582.1 328.4V333.5" stroke="#000" stroke-width="2.8" fill="none"/>
<text x="64.3" y="299.9" text-anchor="end" class="tk">1.0</text>
<text x="64.3" y="232.7" text-anchor="end" class="tk">1.5</text>
<text x="64.3" y="165.5" text-anchor="end" class="tk">2.0</text>
<text x="64.3" y="98.4" text-anchor="end" class="tk">2.5</text>
<text x="64.3" y="31.2" text-anchor="end" class="tk">3.0</text>
<text x="75.4" y="352.1" text-anchor="middle" class="tk">0</text>
<text x="174.8" y="352.1" text-anchor="middle" class="tk">60</text>
<text x="274.1" y="352.1" text-anchor="middle" class="tk">120</text>
<text x="373.5" y="352.1" text-anchor="middle" class="tk">180</text>
<text x="472.8" y="352.1" text-anchor="middle" class="tk">240</text>
<text x="572.2" y="352.1" text-anchor="middle" class="tk">300</text>
<text x="332.7" y="381.7" text-anchor="middle" class="ax">Time (sec)</text>
<text transform="translate(32.3 175.7) rotate(-90)" text-anchor="middle" class="ax">Calcium flux ΔF/F0</text>
<path d="M608.8 124.5H629.1" stroke="#000" stroke-width="1.1"/><path d="M618.9 120.9l3.6 3.6l-3.6 3.6l-3.6 -3.6z" fill="#000"/><text x="640.3" y="128.3" class="lg">TCP</text>
<path d="M608.8 149.8H629.1" stroke="#000" stroke-width="1.1"/><path d="M615.7 146.6h6.4v6.4h-6.4z" fill="#000"/><text x="640.8" y="154.4" class="lg">12 kPa</text>
<path d="M609.7 216.1H629.9" stroke="#000" stroke-width="1.1"/><circle cx="619.8" cy="216.1" r="3.4" fill="#000"/><text x="640.7" y="221.4" class="lg">2 kPa</text>
<path d="M611.5 293.0H631.5" stroke="#000" stroke-width="1.1"/><path d="M621.6 290.0L622.60 292.00L624.6 293.0L622.60 294.00L621.6 296.0L620.60 294.00L618.6 293.0L620.60 292.00z" stroke="#000" stroke-width="0.7" fill="#000"/><text x="642.4" y="298.3" class="lg">Control</text>
</svg>
</body></html>
